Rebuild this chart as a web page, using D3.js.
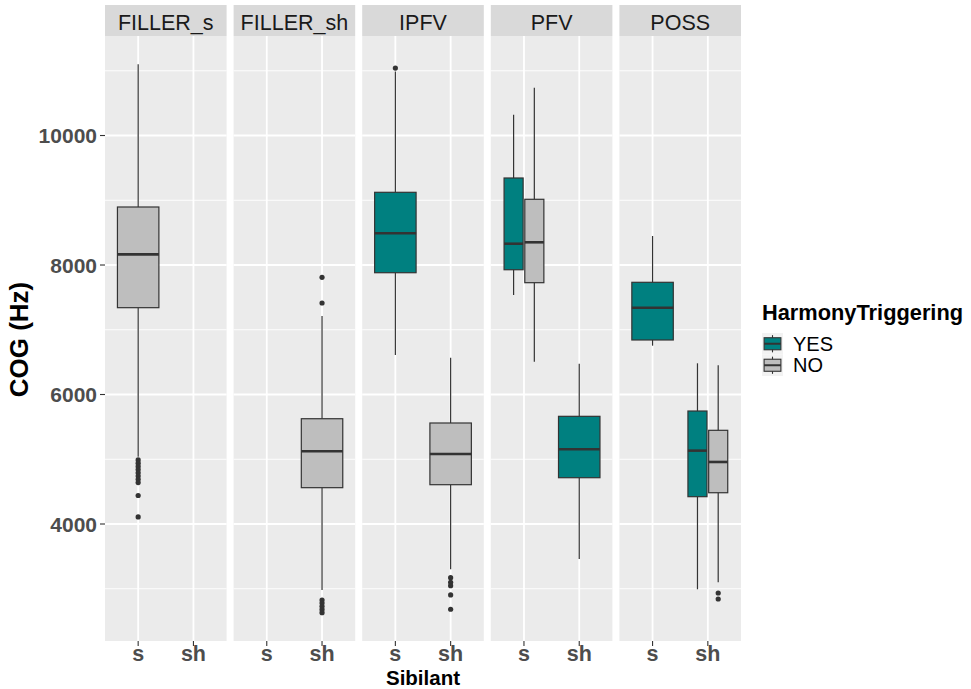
<!DOCTYPE html>
<html><head><meta charset="utf-8">
<script src="https://cdn.jsdelivr.net/npm/d3@7/dist/d3.min.js"></script>
<style>body{margin:0;background:#fff;}svg{display:block;}</style>
</head><body>
<script>
// ---- data ----
const panels = ["FILLER_s", "FILLER_sh", "IPFV", "PFV", "POSS"];
const sibilants = ["s", "sh"];
const groups = ["YES", "NO"];
const groupColors = ["#008080", "#BEBEBE"];
const yTicks = [4000, 6000, 8000, 10000];
const yMinor = [3000, 5000, 7000, 9000, 11000];

// one entry per box
const boxPanel    = ["FILLER_s", "FILLER_sh", "IPFV", "IPFV", "PFV", "PFV", "PFV", "POSS", "POSS", "POSS"];
const boxSibilant = ["s", "sh", "s", "sh", "s", "s", "sh", "s", "sh", "sh"];
const boxGroup    = ["NO", "NO", "YES", "NO", "YES", "NO", "YES", "YES", "YES", "NO"];
const whiskerLow  = [5040, 2980, 6610, 3300, 7537, 6507, 3459, 6754, 2992, 3100];
const q1          = [7341, 4561, 7881, 4607, 7927, 7727, 4715, 6842, 4422, 4483];
const median      = [8165, 5123, 8490, 5081, 8329, 8351, 5154, 7341, 5133, 4958];
const q3          = [8896, 5626, 9123, 5560, 9344, 9015, 5663, 7733, 5745, 5447];
const whiskerHigh = [11100, 7212, 10990, 6568, 10321, 10738, 6476, 8448, 6482, 6451];
const outliers    = [
  [4990, 4940, 4890, 4840, 4790, 4740, 4690, 4640, 4440, 4110],
  [7810, 7413, 2826, 2780, 2730, 2680, 2630],
  [11042],
  [3171, 3100, 3047, 2904, 2683],
  [], [], [], [],
  [],
  [2934, 2842]
];

// ---- layout ----
const W = 971, H = 689;
const plotLeft = 105, plotRight = 741, gap = 7;
const panelTop = 36, panelBottom = 641, stripTop = 5;
const font = "'Liberation Sans', Arial, Helvetica, sans-serif";

const svg = d3.select("body").append("svg").attr("width", W).attr("height", H);

const panelW = (plotRight - plotLeft - gap * (panels.length - 1)) / panels.length;
const panelX = d3.scaleOrdinal().domain(panels).range(panels.map((p, i) => plotLeft + i * (panelW + gap)));

const y = d3.scaleLinear().domain([2193, 11537]).range([panelBottom, panelTop]);
// discrete x scale with ggplot-like 0.6 expansion
const xUnit = panelW / 2.2;
const xCat = d3.scalePoint().domain(sibilants).range([0.6 * xUnit, 1.6 * xUnit]);

const colorOf = d3.scaleOrdinal().domain(groups).range(groupColors);

panels.forEach(p => {
  const g = svg.append("g").attr("transform", `translate(${panelX(p)},0)`);
  g.append("rect").attr("x", 0).attr("y", panelTop).attr("width", panelW).attr("height", panelBottom - panelTop).attr("fill", "#EBEBEB");
  g.selectAll("line.minor").data(yMinor).join("line")
    .attr("x1", 0).attr("x2", panelW).attr("y1", d => y(d)).attr("y2", d => y(d))
    .attr("stroke", "#fff").attr("stroke-width", 0.9);
  g.selectAll("line.major").data(yTicks).join("line")
    .attr("x1", 0).attr("x2", panelW).attr("y1", d => y(d)).attr("y2", d => y(d))
    .attr("stroke", "#fff").attr("stroke-width", 1.8);
  g.selectAll("line.vmajor").data(sibilants).join("line")
    .attr("x1", d => xCat(d)).attr("x2", d => xCat(d)).attr("y1", panelTop).attr("y2", panelBottom)
    .attr("stroke", "#fff").attr("stroke-width", 1.8);
  // strip
  g.append("rect").attr("x", 0).attr("y", stripTop).attr("width", panelW).attr("height", panelTop - stripTop).attr("fill", "#D9D9D9");
  g.append("text").attr("x", panelW / 2).attr("y", 29.5).attr("text-anchor", "middle")
    .attr("font-family", font).attr("font-size", 21.5).attr("fill", "#1A1A1A").text(p);
  // x axis ticks + labels
  g.selectAll("line.xt").data(sibilants).join("line")
    .attr("x1", d => xCat(d)).attr("x2", d => xCat(d)).attr("y1", panelBottom).attr("y2", panelBottom + 5)
    .attr("stroke", "#333").attr("stroke-width", 1.1);
  g.selectAll("text.xl").data(sibilants).join("text")
    .attr("x", d => xCat(d)).attr("y", 661).attr("text-anchor", "middle")
    .attr("font-family", font).attr("font-weight", "bold").attr("font-size", 21.5).attr("fill", "#4D4D4D")
    .text(d => d);
});

// boxes
const dodgeW = 0.75 * xUnit;
boxPanel.forEach((p, i) => {
  const s = boxSibilant[i];
  const same = boxPanel.map((q, j) => j).filter(j => boxPanel[j] === p && boxSibilant[j] === s);
  const n = same.length;
  const k = same.indexOf(i);
  const slot = dodgeW / n;
  const cx = panelX(p) + xCat(s) - dodgeW / 2 + slot * (k + 0.5);
  const bw = n > 1 ? slot * 0.92 : dodgeW;
  const g = svg.append("g");
  const stroke = "#333333";
  g.append("line").attr("x1", cx).attr("x2", cx).attr("y1", y(whiskerHigh[i])).attr("y2", y(q3[i]))
    .attr("stroke", stroke).attr("stroke-width", 1.2);
  g.append("line").attr("x1", cx).attr("x2", cx).attr("y1", y(q1[i])).attr("y2", y(whiskerLow[i]))
    .attr("stroke", stroke).attr("stroke-width", 1.2);
  g.append("rect").attr("x", cx - bw / 2).attr("width", bw).attr("y", y(q3[i])).attr("height", y(q1[i]) - y(q3[i]))
    .attr("fill", colorOf(boxGroup[i])).attr("stroke", stroke).attr("stroke-width", 1.2);
  g.append("line").attr("x1", cx - bw / 2).attr("x2", cx + bw / 2).attr("y1", y(median[i])).attr("y2", y(median[i]))
    .attr("stroke", stroke).attr("stroke-width", 2.6);
  g.selectAll("circle").data(outliers[i]).join("circle")
    .attr("cx", cx).attr("cy", d => y(d)).attr("r", 2.6).attr("fill", stroke);
});

// y axis
const yAx = svg.append("g");
yAx.selectAll("line").data(yTicks).join("line")
  .attr("x1", plotLeft - 5).attr("x2", plotLeft).attr("y1", d => y(d)).attr("y2", d => y(d))
  .attr("stroke", "#333").attr("stroke-width", 1.1);
yAx.selectAll("text").data(yTicks).join("text")
  .attr("x", plotLeft - 8).attr("y", d => y(d)).attr("dy", "0.36em").attr("text-anchor", "end")
  .attr("font-family", font).attr("font-weight", "bold").attr("font-size", 21).attr("fill", "#4D4D4D")
  .text(d => d);

// axis titles
svg.append("text").attr("transform", `translate(28,${(panelTop + panelBottom) / 2 + 1}) rotate(-90)`)
  .attr("text-anchor", "middle").attr("font-family", font).attr("font-weight", "bold").attr("font-size", 26)
  .attr("fill", "#000").text("COG (Hz)");
svg.append("text").attr("x", (plotLeft + plotRight) / 2).attr("y", 684.5).attr("text-anchor", "middle")
  .attr("font-family", font).attr("font-weight", "bold").attr("font-size", 20.5).attr("fill", "#000").text("Sibilant");

// legend
const lg = svg.append("g").attr("transform", "translate(762,0)");
lg.append("text").attr("x", 0).attr("y", 320).attr("font-family", font).attr("font-weight", "bold")
  .attr("font-size", 21.8).attr("fill", "#000").text("HarmonyTriggering");
const keyH = 21.5, keyW = 21, keyTop = 333;
groups.forEach((grp, i) => {
  const ky = keyTop + i * keyH;
  lg.append("rect").attr("x", 0).attr("y", ky).attr("width", keyW).attr("height", keyH).attr("fill", "#F2F2F2");
  const cx = keyW / 2;
  lg.append("line").attr("x1", cx).attr("x2", cx).attr("y1", ky + keyH * 0.1).attr("y2", ky + keyH * 0.9)
    .attr("stroke", "#333").attr("stroke-width", 1.1);
  lg.append("rect").attr("x", keyW * 0.1).attr("width", keyW * 0.8).attr("y", ky + keyH * 0.22).attr("height", keyH * 0.56)
    .attr("fill", colorOf(grp)).attr("stroke", "#333").attr("stroke-width", 1.1);
  lg.append("line").attr("x1", keyW * 0.1).attr("x2", keyW * 0.9).attr("y1", ky + keyH / 2).attr("y2", ky + keyH / 2)
    .attr("stroke", "#333").attr("stroke-width", 2);
  lg.append("text").attr("x", 31).attr("y", ky + keyH / 2).attr("dy", "0.36em")
    .attr("font-family", font).attr("font-size", 20).attr("fill", "#000").text(grp);
});
</script>
</body></html>
